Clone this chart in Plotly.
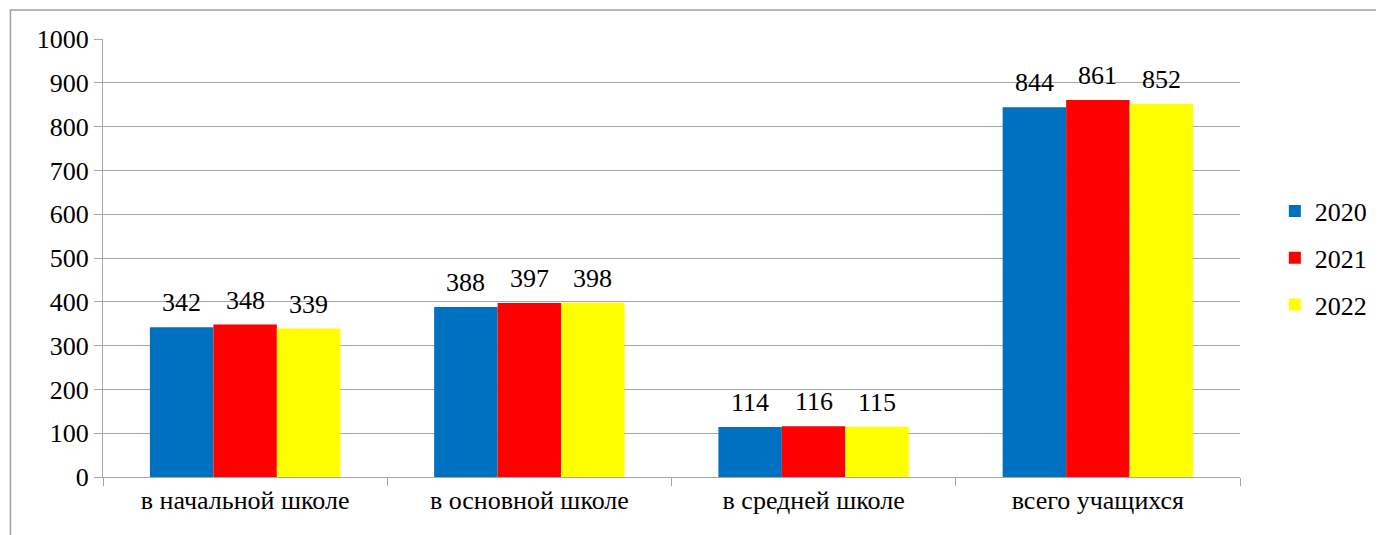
import plotly.graph_objects as go

categories = ["в начальной школе", "в основной школе", "в средней школе", "всего учащихся"]
years = ["2020", "2021", "2022"]
v2020 = [342, 388, 114, 844]
v2021 = [348, 397, 116, 861]
v2022 = [339, 398, 115, 852]
colors = ["#0070C0", "#FF0000", "#FFFF00"]

FONT = "Liberation Serif, Tinos, Times New Roman, serif"
FS = 26
fig = go.Figure()
offsets = [-1, 0, 1]
series = [v2020, v2021, v2022]
for i, (name, vals) in enumerate(zip(years, series)):
    fig.add_trace(go.Bar(
        x=categories, y=vals, name=name, marker_color=colors[i],
        marker_line_width=0, legendgroup=name,
    ))

W, H = 1376, 527
L, R, T, B = 95, 139, 31, 58
pw, ph = W - L - R, H - T - B

bargap = 0.33
annotations = []
for i, vals in enumerate(series):
    for j, v in enumerate(vals):
        annotations.append(dict(
            x=j + offsets[i] * (1 - bargap) / 3, y=v, xref="x", yref="y",
            text=str(v), showarrow=False, yanchor="bottom", yshift=8,
            font=dict(family=FONT, size=FS, color="black")))

fig.update_layout(
    template="none",
    width=W, height=H, barmode="group", bargap=bargap, bargroupgap=0,
    margin=dict(l=L, r=R, t=T, b=B, pad=0),
    paper_bgcolor="white", plot_bgcolor="white",
    font=dict(family=FONT, size=FS, color="black"),
    showlegend=True,
    annotations=annotations,
    legend=dict(x=(1280 - 8 - L) / pw, xanchor="left", y=0.5, yanchor="middle",
                font=dict(family=FONT, size=FS, color="black"), traceorder="grouped",
                tracegroupgap=10, itemwidth=30, bgcolor="rgba(0,0,0,0)"),
    yaxis=dict(range=[0, 1000], dtick=100, showgrid=True, gridcolor="#A6A6A6",
               gridwidth=1, ticks="outside", ticklen=8, tickcolor="#A6A6A6",
               showline=True, linecolor="#A6A6A6", linewidth=1, zeroline=False,
               tickfont=dict(family=FONT, size=FS, color="black"), automargin=False),
    xaxis=dict(showline=True, linecolor="#A6A6A6", linewidth=1, ticks="outside",
               tickson="boundaries", ticklen=8, tickcolor="#A6A6A6", showgrid=False,
               tickfont=dict(family=FONT, size=FS, color="black"), automargin=False),
    shapes=[dict(type="rect", xref="paper", yref="paper",
                 x0=(2 - L) / pw, x1=(W + 50 - L) / pw,
                 y0=-(B + 50) / ph, y1=1 + (T - 2) / ph,
                 line=dict(color="#A0A0A0", width=1.5), fillcolor="rgba(0,0,0,0)", layer="below")],
)
fig.write_html("out.html")
